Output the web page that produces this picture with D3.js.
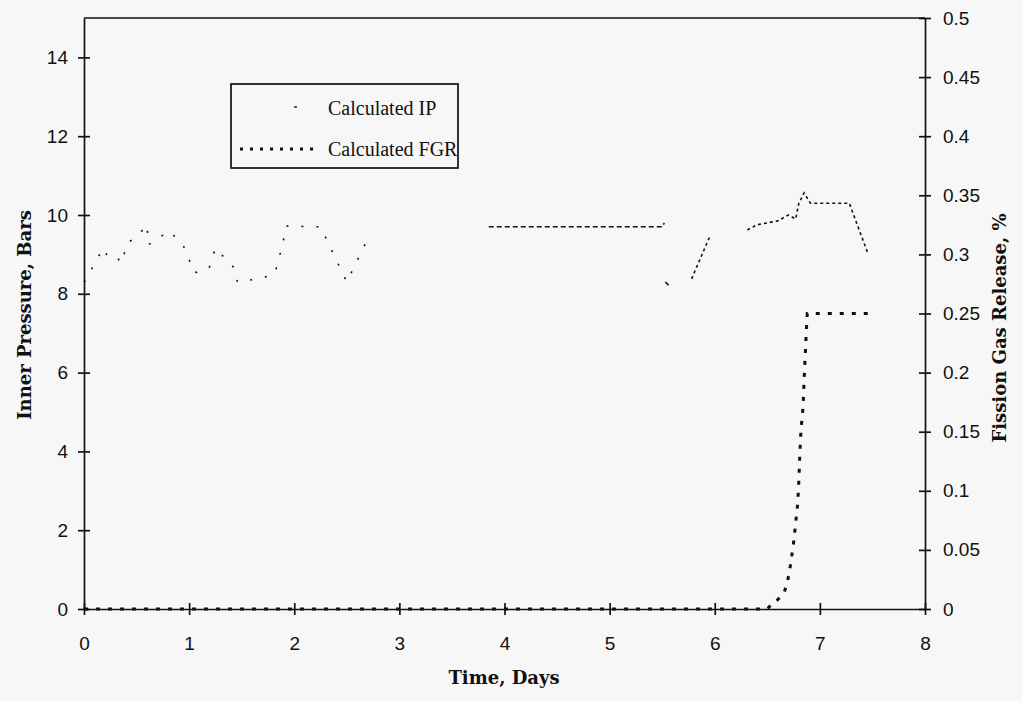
<!DOCTYPE html>
<html>
<head>
<meta charset="utf-8">
<script src="https://cdn.jsdelivr.net/npm/d3@7"></script>
<style>
	body { margin: 0; background: #f7f7f7; }
	svg { display: block; }
	.tick text { font-family: "Liberation Sans", Arial, sans-serif; font-size: 19px; fill: #111; }
	.axis path, .axis line { stroke: #111; stroke-width: 1.7; }
	.title { font-family: "DejaVu Serif", "Liberation Serif", serif; font-weight: bold; font-size: 18px; fill: #111; }
	.legend-text { font-family: "Liberation Serif", "Times New Roman", serif; font-size: 20px; fill: #111; }
</style>
</head>
<body>
<svg id="chart"></svg>
<script>
// inner pressure, null = break in the trace
var ipTime = [0, 0.04, 0.1, 0.14, 0.19, 0.22, 0.3, 0.36, 0.41, 0.5, 0.6, 0.61, 0.81, 0.94, 1.05, 1.19, 1.25, 1.42, 1.46, 1.7, 1.82, 1.84, 1.89, 1.92, 2.25, 2.5, 2.68, 2.72,
	null, 3.85, 5.5, 5.52,
	null, 5.53, 5.56,
	null, 5.78, 5.96,
	null, 6.31, 6.4, 6.5, 6.6, 6.7, 6.77, 6.8, 6.85, 6.91, 7.28, 7.46];
var ipPressure = [8.3, 8.43, 8.78, 8.96, 9.16, 8.96, 8.96, 8.78, 9.29, 9.44, 9.75, 9.24, 9.59, 9.26, 8.53, 8.65, 9.16, 8.68, 8.3, 8.4, 8.53, 8.78, 9.24, 9.72, 9.7, 8.3, 9.29, 9.45,
	null, 9.7, 9.7, 9.8,
	null, 8.3, 8.22,
	null, 8.38, 9.5,
	null, 9.62, 9.75, 9.8, 9.85, 10.0, 9.9, 10.3, 10.56, 10.3, 10.3, 9.0];

// fission gas release, %
var fgrTime = [0, 6.5, 6.55, 6.6, 6.66, 6.69, 6.72, 6.75, 6.77, 6.79, 6.8, 6.81, 6.82, 6.84, 6.85, 6.86, 6.87, 6.88, 7.47];
var fgrValue = [0, 0, 0.005, 0.008, 0.014, 0.022, 0.037, 0.056, 0.073, 0.09, 0.109, 0.132, 0.151, 0.171, 0.194, 0.213, 0.233, 0.25, 0.25];

var xTicks = [0, 1, 2, 3, 4, 5, 6, 7, 8];
var ipTicks = [0, 2, 4, 6, 8, 10, 12, 14];
var fgrTicks = [0, 0.05, 0.1, 0.15, 0.2, 0.25, 0.3, 0.35, 0.4, 0.45, 0.5];
var legendLabels = ["Calculated IP", "Calculated FGR"];

var W = 1022, H = 701;
var margin = {top: 18, left: 84, right: 97, bottom: 92};
var width = W - margin.left - margin.right,
	height = H - margin.top - margin.bottom;

var svg = d3.select("#chart").attr("width", W).attr("height", H);
svg.append("rect").attr("width", W).attr("height", H).attr("fill", "#f7f7f7");

var g = svg.append("g").attr("transform", "translate(" + margin.left + "," + margin.top + ")");

var x = d3.scaleLinear().domain([0, 8]).range([0, width]);
var yL = d3.scaleLinear().domain([0, 15]).range([height, 0]);
var yR = d3.scaleLinear().domain([0, 0.5]).range([height, 0]);

// top border of the plot
g.append("line").attr("x1", 0).attr("x2", width).attr("y1", 0).attr("y2", 0)
	.attr("stroke", "#111").attr("stroke-width", 1.7);

var xAxis = g.append("g").attr("class", "axis")
	.attr("transform", "translate(0," + height + ")")
	.call(d3.axisBottom(x).tickValues(xTicks).tickSize(6).tickPadding(22).tickSizeOuter(0));
xAxis.selectAll(".tick line").attr("y1", -6).attr("y2", 6);

var leftAxis = g.append("g").attr("class", "axis")
	.call(d3.axisLeft(yL).tickValues(ipTicks).tickSize(6).tickPadding(10).tickSizeOuter(0));
leftAxis.selectAll(".tick line").attr("x1", -6).attr("x2", 6);

var rightAxis = g.append("g").attr("class", "axis")
	.attr("transform", "translate(" + width + ",0)")
	.call(d3.axisRight(yR).tickValues(fgrTicks).tickSize(6).tickPadding(12).tickSizeOuter(0)
		.tickFormat(function(d) { return String(+d.toFixed(2)); }));
rightAxis.selectAll(".tick line").attr("x1", -6).attr("x2", 6);

// IP trace, split into runs at the breaks
var ipData = ipTime.map(function(t, i) { return {t: t, p: ipPressure[i]}; });
var runs = [[]];
ipData.forEach(function(d) {
	if (d.t === null || d.p === null) runs.push([]);
	else runs[runs.length - 1].push(d);
});
var runDash = ["2,13", "5,3", "none", "3,3", "3,3"];

var ipLine = d3.line()
	.x(function(d) { return x(d.t); })
	.y(function(d) { return yL(d.p); });

g.selectAll(".ip-run")
	.data(runs)
	.enter().append("path")
		.attr("class", "ip-run")
		.attr("fill", "none")
		.attr("stroke", "#111")
		.attr("stroke-width", 1.6)
		.attr("stroke-dasharray", function(d, i) { return runDash[i]; })
		.attr("d", ipLine);

// FGR trace
var fgrData = fgrTime.map(function(t, i) { return {t: t, v: fgrValue[i]}; });
var fgrLine = d3.line()
	.x(function(d) { return x(d.t); })
	.y(function(d) { return yR(d.v); });

g.append("path")
	.datum(fgrData)
	.attr("fill", "none")
	.attr("stroke", "#111")
	.attr("stroke-width", 3)
	.attr("stroke-dasharray", "4,8")
	.attr("d", fgrLine);

// legend
var legend = svg.append("g").attr("transform", "translate(231,84)");
legend.append("rect")
	.attr("width", 227).attr("height", 84)
	.attr("fill", "none").attr("stroke", "#111").attr("stroke-width", 1.7);
legend.append("line")
	.attr("x1", 63).attr("x2", 66).attr("y1", 23).attr("y2", 23)
	.attr("stroke", "#111").attr("stroke-width", 1.4);
legend.append("line")
	.attr("x1", 9).attr("x2", 88).attr("y1", 65).attr("y2", 65)
	.attr("stroke", "#111").attr("stroke-width", 3).attr("stroke-dasharray", "3,7");
legend.selectAll(".legend-text")
	.data(legendLabels)
	.enter().append("text")
		.attr("class", "legend-text")
		.attr("x", 97)
		.attr("y", function(d, i) { return 31 + i * 41; })
		.text(function(d) { return d; });

// axis titles
svg.append("text").attr("class", "title")
	.attr("x", 504).attr("y", 684)
	.attr("text-anchor", "middle")
	.text("Time, Days");

svg.append("text").attr("class", "title")
	.attr("transform", "translate(31,315) rotate(-90)")
	.attr("text-anchor", "middle")
	.text("Inner Pressure, Bars");

svg.append("text").attr("class", "title")
	.attr("transform", "translate(1006,328) rotate(-90)")
	.attr("text-anchor", "middle")
	.text("Fission Gas Release, %");
</script>
</body>
</html>
